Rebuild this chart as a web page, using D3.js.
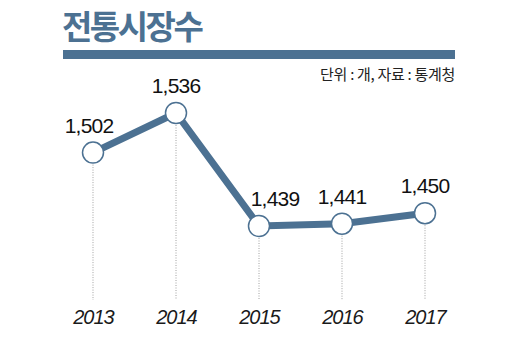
<!DOCTYPE html>
<html><head><meta charset="utf-8">
<script src="https://cdn.jsdelivr.net/npm/d3@7"></script>
<style>
html,body{margin:0;padding:0;background:#fff;}
svg{display:block;}
</style></head>
<body>
<svg id="chart" width="520" height="342"></svg>
<script>
const years = ["2013", "2014", "2015", "2016", "2017"];
const values = [1502, 1536, 1439, 1441, 1450];
const titleText = "전통시장수";
const noteText = "단위 : 개, 자료 : 통계청";

const svg = d3.select("#chart");
const blue = "#4c7192";

svg.append("text").attr("x", 62).attr("y", 39)
  .attr("font-family", "Noto Sans CJK KR").attr("font-weight", 700)
  .attr("font-size", 33).attr("letter-spacing", -2.5).attr("fill", blue)
  .text(titleText);

svg.append("rect").attr("x", 63).attr("y", 50).attr("width", 392).attr("height", 9).attr("fill", blue);

svg.append("text").attr("x", 455).attr("y", 80).attr("text-anchor", "end")
  .attr("font-family", "Noto Sans CJK KR").attr("font-size", 15).attr("letter-spacing", -0.3)
  .attr("fill", "#222").text(noteText);

const x = d3.scalePoint().domain(years).range([93, 425]);
const y = d3.scaleLinear().domain([1439, 1536]).range([226, 113]);

const g = svg.append("g");
g.selectAll("line.drop").data(years).join("line")
  .attr("class", "drop")
  .attr("x1", d => x(d)).attr("x2", d => x(d))
  .attr("y1", (d, i) => y(values[i]) + 12).attr("y2", 300)
  .attr("stroke", "#a0a0a0").attr("stroke-width", 1).attr("stroke-dasharray", "1,1.5");

const line = d3.line().x((d, i) => x(years[i])).y(d => y(d));
g.append("path").datum(values).attr("d", line)
  .attr("fill", "none").attr("stroke", blue).attr("stroke-width", 7).attr("stroke-linejoin", "miter");

g.selectAll("circle").data(values).join("circle")
  .attr("cx", (d, i) => x(years[i])).attr("cy", d => y(d)).attr("r", 10.5)
  .attr("fill", "#fff").attr("stroke", blue).attr("stroke-width", 1.5);

// labels: shift right when the incoming segment descends steeply into the point
function labelDx(i) {
  if (i > 0 && values[i - 1] - values[i] > 30) return 16;
  if (i === 0) return -4;
  return 0;
}
g.selectAll("text.val").data(values).join("text")
  .attr("class", "val")
  .attr("x", (d, i) => x(years[i]) + labelDx(i)).attr("y", d => y(d) - 20)
  .attr("text-anchor", "middle").attr("font-family", "Liberation Sans")
  .attr("font-size", 21).attr("letter-spacing", -0.8).attr("fill", "#111")
  .text(d => d3.format(",")(d));

const axis = d3.axisBottom(x).tickSize(0).tickPadding(0);
const ax = svg.append("g").attr("transform", "translate(0,308)").call(axis);
ax.select(".domain").remove();
ax.selectAll("text").attr("font-family", "Liberation Sans").attr("font-style", "italic")
  .attr("font-weight", 400)
  .attr("font-size", 20).attr("letter-spacing", -1).attr("fill", "#1a1a1a").attr("dy", "0.78em");
</script>
</body></html>
